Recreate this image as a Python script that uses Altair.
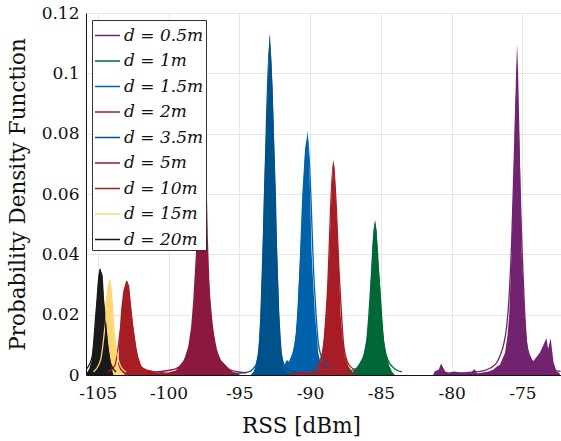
import altair as alt
import pandas as pd

labels = ["d = 0.5m", "d = 1m", "d = 1.5m", "d = 2m", "d = 3.5m",
          "d = 5m", "d = 10m", "d = 15m", "d = 20m"]
colors = ["#72236F", "#006837", "#0062AA", "#A81C25", "#00528A",
          "#8C1840", "#A61E23", "#FFD770", "#1A1A1A"]

# ---- histogram outlines (RSS dBm, density) ----
h05_x = [-81.3, -81.2, -80.9, -80.75, -80.6, -80.45, -80.2, -79.8, -79.4, -79.0, -78.6, -78.4, -78.2, -77.8,
         -77.4, -77.06, -76.82, -76.59, -76.35, -76.23, -76.05, -75.93, -75.76, -75.62, -75.54, -75.45,
         -75.37, -75.3, -75.2, -75.12, -75.05, -74.83, -74.7, -74.58, -74.47, -74.24, -74.0, -73.76,
         -73.53, -73.3, -73.18, -73.0, -72.8, -72.58, -72.35]
h05_y = [0.0, 0.0012, 0.0018, 0.0038, 0.0025, 0.0012, 0.0008, 0.0012, 0.0008, 0.0006, 0.0008, 0.002, 0.0006, 0.0008,
         0.0012, 0.0017, 0.0027, 0.0034, 0.006, 0.0073, 0.013, 0.020, 0.0405, 0.065, 0.0793, 0.100,
         0.1097, 0.100, 0.0793, 0.060, 0.0405, 0.020, 0.012, 0.0073, 0.006, 0.0045, 0.006, 0.0075,
         0.0098, 0.0122, 0.0086, 0.0122, 0.0042, 0.0012, 0.0005]

h1_x = [-87.2, -87.0, -86.7, -86.5, -86.24, -86.0, -85.82, -85.72, -85.55, -85.45, -85.4, -85.3, -85.2,
        -85.06, -84.94, -84.8, -84.59, -84.4, -84.2, -84.0]
h1_y = [0.0, 0.001, 0.0025, 0.004, 0.0062, 0.012, 0.020, 0.0306, 0.045, 0.0505, 0.0514, 0.048, 0.038,
        0.0306, 0.020, 0.012, 0.0062, 0.003, 0.001, 0.0]

h15_x = [-92.0, -91.85, -91.7, -91.6, -91.45, -91.3, -91.19, -91.0, -90.88, -90.71, -90.55, -90.35, -90.22,
         -90.17, -90.1, -90.0, -89.89, -89.75, -89.65, -89.42, -89.2, -89.0, -88.8]
h15_y = [0.0, 0.003, 0.0045, 0.005, 0.004, 0.006, 0.0073, 0.014, 0.020, 0.0405, 0.060, 0.075, 0.079,
         0.0809, 0.076, 0.060, 0.0405, 0.028, 0.020, 0.0073, 0.003, 0.001, 0.0]

h2_x = [-91.5, -90.5, -89.8, -89.6, -89.4, -89.18, -89.0, -88.88, -88.75, -88.64, -88.5, -88.4, -88.36,
        -88.28, -88.15, -88.0, -87.84, -87.7, -87.53, -87.3, -87.0, -86.8]
h2_y = [0.0005, 0.001, 0.0008, 0.001, 0.002, 0.0062, 0.012, 0.020, 0.030, 0.040, 0.058, 0.069, 0.0715,
        0.069, 0.055, 0.040, 0.020, 0.012, 0.0062, 0.003, 0.001, 0.0]

h35_x = [-94.2, -94.0, -93.85, -93.66, -93.49, -93.35, -93.26, -93.11, -93.0, -92.88, -92.83, -92.75,
         -92.65, -92.55, -92.41, -92.32, -92.17, -92.0, -91.85, -91.7, -91.5]
h35_y = [0.0, 0.001, 0.003, 0.0073, 0.020, 0.0405, 0.0605, 0.0798, 0.095, 0.112, 0.113, 0.105,
         0.095, 0.0798, 0.0605, 0.0405, 0.020, 0.0073, 0.003, 0.001, 0.0]

h5_x = [-101.0, -100.5, -100.0, -99.5, -99.19, -98.9, -98.6, -98.4, -98.25, -98.06, -98.0, -97.8, -97.6,
        -97.55, -97.45, -97.3, -97.22, -97.07, -96.9, -96.7, -96.3, -95.9, -95.5, -95.0]
h5_y = [0.0005, 0.0008, 0.0008, 0.0015, 0.003, 0.005, 0.0095, 0.016, 0.025, 0.0406, 0.0456, 0.047, 0.047,
        0.063, 0.065, 0.063, 0.0456, 0.025, 0.016, 0.0095, 0.005, 0.003, 0.0012, 0.0004]

h10_x = [-103.78, -103.66, -103.54, -103.47, -103.35, -103.19, -102.95, -102.77, -102.67, -102.49, -102.3,
         -102.13, -101.9, -101.54, -101.2, -100.8, -100.5, -100.0, -99.5, -99.0, -98.8]
h10_y = [0.0, 0.002, 0.005, 0.0128, 0.0217, 0.028, 0.0314, 0.0294, 0.0228, 0.016, 0.0095,
         0.006, 0.0027, 0.0018, 0.0015, 0.0008, 0.001, 0.0005, 0.0006, 0.0003, 0.0]

h15m_x = [-105.2, -104.96, -104.72, -104.48, -104.25, -104.13, -104.01, -103.9, -103.78, -103.66, -103.43, -103.07]
h15m_y = [0.0, 0.002, 0.008, 0.023, 0.0305, 0.032, 0.025, 0.016, 0.0095, 0.005, 0.0018, 0.0]

h20_x = [-105.8, -105.6, -105.42, -105.19, -105.03, -104.91, -104.84, -104.65, -104.55, -104.44, -104.25,
         -104.08, -103.9]
h20_y = [0.0005, 0.002, 0.005, 0.016, 0.027, 0.034, 0.0355, 0.033, 0.025, 0.0195, 0.0095, 0.004, 0.0]

# ---- fitted curves (RSS dBm, density) ----
f05_x = [-80.0, -79.0, -78.0, -77.5, -77.06, -76.8, -76.59, -76.3, -76.11, -75.95, -75.75, -75.55, -75.4,
         -75.25, -75.05, -74.85, -74.7, -74.47, -74.2, -73.76, -73.3, -72.8, -72.3]
f05_y = [0.0006, 0.0008, 0.0012, 0.0018, 0.0029, 0.0042, 0.0062, 0.0106, 0.016, 0.025, 0.045, 0.075, 0.095,
         0.075, 0.045, 0.022, 0.0106, 0.0062, 0.0042, 0.0029, 0.002, 0.0015, 0.0012]
f1_x = [-87.5, -86.8, -86.3, -86.0, -85.7, -85.42, -85.1, -84.8, -84.5, -84.0, -83.5]
f1_y = [0.001, 0.002, 0.005, 0.011, 0.030, 0.050, 0.030, 0.011, 0.005, 0.002, 0.001]
f15_x = [-92.0, -91.4, -91.0, -90.7, -90.17, -89.7, -89.4, -89.0, -88.5]
f15_y = [0.002, 0.005, 0.012, 0.035, 0.078, 0.030, 0.010, 0.004, 0.002]
f2_x = [-90.0, -89.5, -89.1, -88.8, -88.36, -87.9, -87.6, -87.2, -86.7]
f2_y = [0.0015, 0.003, 0.008, 0.025, 0.070, 0.030, 0.009, 0.003, 0.0015]
f35_x = [-95.5, -95.0, -94.6, -94.2, -93.95, -93.77, -93.55, -93.3, -92.85, -92.4, -92.15, -91.95, -91.7,
         -91.3, -90.8]
f35_y = [0.0003, 0.0006, 0.0008, 0.0013, 0.0025, 0.004, 0.012, 0.045, 0.110, 0.045, 0.012, 0.005, 0.0025,
         0.0013, 0.0008]
f5_x = [-101.5, -100.5, -99.5, -99.0, -98.6, -98.3, -97.6, -96.9, -96.6, -96.3, -95.8, -95.0, -94.5]
f5_y = [0.0008, 0.0012, 0.002, 0.004, 0.008, 0.016, 0.050, 0.016, 0.008, 0.004, 0.002, 0.001, 0.0007]
f10_x = [-104.3, -103.8, -103.4, -102.95, -102.5, -102.1, -101.6, -101.0]
f10_y = [0.001, 0.003, 0.015, 0.031, 0.015, 0.004, 0.0015, 0.001]
f15m_x = [-105.3, -104.8, -104.4, -104.13, -103.8, -103.4, -103.0]
f15m_y = [0.001, 0.005, 0.020, 0.031, 0.012, 0.003, 0.001]
f20_x = [-105.8, -105.4, -105.1, -104.84, -104.5, -104.1, -103.7]
f20_y = [0.002, 0.006, 0.022, 0.035, 0.018, 0.004, 0.001]

hist_sets = [(h05_x, h05_y), (h1_x, h1_y), (h15_x, h15_y), (h2_x, h2_y), (h35_x, h35_y),
             (h5_x, h5_y), (h10_x, h10_y), (h15m_x, h15m_y), (h20_x, h20_y)]
fit_sets = [(f05_x, f05_y), (f1_x, f1_y), (f15_x, f15_y), (f2_x, f2_y), (f35_x, f35_y),
            (f5_x, f5_y), (f10_x, f10_y), (f15m_x, f15m_y), (f20_x, f20_y)]

hist_rows, fit_rows = [], []
for lab, (hx, hy), (fx, fy) in zip(labels, hist_sets, fit_sets):
    for a, b in zip(hx, hy):
        hist_rows.append({"series": lab, "rss": a, "pdf": b})
    for a, b in zip(fx, fy):
        fit_rows.append({"series": lab, "rss": a, "pdf": b})
hist_df = pd.DataFrame(hist_rows)
fit_df = pd.DataFrame(fit_rows)

FONT = "DejaVu Serif"
xscale = alt.Scale(domain=[-105.83, -72.27], nice=False, zero=False)
yscale = alt.Scale(domain=[0, 0.12], nice=False)
cscale = alt.Scale(domain=labels, range=colors)

xaxis = alt.Axis(values=[-105, -100, -95, -90, -85, -80, -75], labelExpr="'' + datum.value",
                 title="RSS [dBm]", ticks=False, labelPadding=10, titlePadding=14,
                 titleX=215, titleAlign="center")
yaxis = alt.Axis(values=[0, 0.02, 0.04, 0.06, 0.08, 0.1, 0.12], labelExpr="'' + datum.value",
                 title="Probability Density Function", ticks=False, labelPadding=7, titlePadding=12)

legend = alt.Legend(title=None, orient="none", legendX=6, legendY=7,
                    symbolType="stroke", symbolSize=625, symbolStrokeWidth=1.5,
                    labelFont=FONT, labelFontSize=17, labelFontStyle="italic",
                    labelColor="#111111", labelLimit=300, rowPadding=3.5,
                    fillColor="white", strokeColor="#333333", padding=2,
                    symbolOffset=0, labelOffset=3)

areas = alt.Chart(hist_df).mark_area(interpolate="linear", clip=True, opacity=1).encode(
    x=alt.X("rss:Q", scale=xscale, axis=xaxis),
    y=alt.Y("pdf:Q", scale=yscale, axis=yaxis, stack=None),
    color=alt.Color("series:N", scale=cscale, legend=legend),
)

lines = alt.Chart(fit_df).mark_line(interpolate="monotone", clip=True, strokeWidth=1.3).encode(
    x=alt.X("rss:Q", scale=xscale),
    y=alt.Y("pdf:Q", scale=yscale),
    color=alt.Color("series:N", scale=cscale, legend=legend),
)

chart = alt.layer(areas, lines).properties(
    width=475, height=362,
    padding={"left": 86, "top": 13, "right": 0, "bottom": 66},
    autosize=alt.AutoSizeParams(type="none"),
).configure_view(stroke=None).configure_axis(
    labelFont=FONT, titleFont=FONT, labelFontSize=17, titleFontSize=21.5,
    labelColor="#111111", titleColor="#111111", titleFontWeight="normal",
    gridColor="#E6E6E6", gridWidth=1, domainColor="#111111", domainWidth=1,
)

chart.save("out.html", embed_options={"renderer": "svg", "actions": False})
